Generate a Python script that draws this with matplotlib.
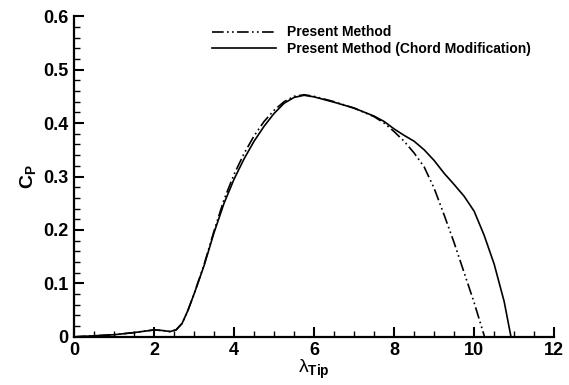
import numpy as np
import matplotlib.pyplot as plt
from matplotlib.ticker import MultipleLocator, FuncFormatter

plt.rcParams['font.family'] = 'Liberation Sans'
plt.rcParams['font.weight'] = 'bold'
plt.rcParams['mathtext.fontset'] = 'custom'
plt.rcParams['mathtext.rm'] = 'Liberation Sans:weight=normal'
plt.rcParams['mathtext.it'] = 'Liberation Sans:weight=normal'
plt.rcParams['mathtext.bf'] = 'Liberation Sans:bold'

# Present Method
lam_pm = [0, 0.5, 1.0, 1.5, 2.0, 2.2, 2.4, 2.55, 2.7, 2.85, 3.0, 3.25, 3.5, 3.75,
          4.0, 4.25, 4.5, 4.75, 5.0, 5.25, 5.5, 5.75, 6.0, 6.5, 7.0, 7.5, 7.75,
          8.0, 8.25, 8.5, 8.75, 9.0, 9.25, 9.5, 9.75, 10.0, 10.26]
cp_pm = [0, 0.002, 0.004, 0.008, 0.013, 0.012, 0.010, 0.013, 0.025, 0.05, 0.08,
         0.135, 0.198, 0.257, 0.304, 0.343, 0.376, 0.403, 0.424, 0.440, 0.450,
         0.453, 0.450, 0.440, 0.428, 0.412, 0.400, 0.384, 0.366, 0.344, 0.318,
         0.278, 0.228, 0.176, 0.120, 0.064, 0]

# Present Method (Chord Modification)
lam_cm = [0, 0.5, 1.0, 1.5, 2.0, 2.2, 2.4, 2.55, 2.7, 2.85, 3.0, 3.25, 3.5, 3.75,
          4.0, 4.25, 4.5, 4.75, 5.0, 5.25, 5.5, 5.75, 6.0, 6.5, 7.0, 7.5, 7.75,
          8.0, 8.25, 8.5, 8.75, 9.0, 9.25, 9.5, 9.75, 10.0, 10.25, 10.5, 10.75, 10.92]
cp_cm = [0, 0.002, 0.004, 0.008, 0.013, 0.012, 0.010, 0.013, 0.025, 0.05, 0.08,
         0.133, 0.195, 0.250, 0.295, 0.333, 0.366, 0.394, 0.418, 0.437, 0.448,
         0.452, 0.449, 0.439, 0.428, 0.413, 0.403, 0.389, 0.377, 0.366, 0.350,
         0.330, 0.306, 0.285, 0.263, 0.235, 0.190, 0.136, 0.066, 0]

fig = plt.figure(figsize=(5.69, 3.85), dpi=100)
ax = fig.add_axes([0.130, 0.125, 0.844, 0.833])

ax.plot(lam_pm, cp_pm, color='black', lw=1.2, dashes=(7, 2, 1, 2, 1, 2),
        label='Present Method')
ax.plot(lam_cm, cp_cm, color='black', lw=1.2,
        label='Present Method (Chord Modification)')

ax.set_xlim(0, 12)
ax.set_ylim(0, 0.6)
ax.spines['top'].set_visible(False)
ax.spines['right'].set_visible(False)
for s in ['left', 'bottom']:
    ax.spines[s].set_linewidth(1.6)

ax.xaxis.set_major_locator(MultipleLocator(2))
ax.xaxis.set_minor_locator(MultipleLocator(0.5))
ax.yaxis.set_major_locator(MultipleLocator(0.1))
ax.yaxis.set_minor_locator(MultipleLocator(0.02))
ax.yaxis.set_major_formatter(FuncFormatter(lambda v, p: '%g' % round(v, 2)))
ax.tick_params(which='major', direction='in', length=7, width=1.5,
               labelsize=13)
ax.tick_params(axis='x', which='major', pad=4)
ax.tick_params(axis='y', which='major', pad=4)
ax.tick_params(which='minor', direction='in', length=4, width=1.0)

ax.set_xlabel(r'$\lambda_{\mathbf{Tip}}$', fontsize=14, labelpad=-1)
ax.set_ylabel(r'$\mathbf{C}_{\mathbf{P}}$', fontsize=14, labelpad=4)

ax.legend(loc='upper left', bbox_to_anchor=(0.262, 1.01), frameon=False,
          fontsize=10, handlelength=4.6, handletextpad=0.8, labelspacing=0.2)

fig.savefig('out.png', dpi=100)
